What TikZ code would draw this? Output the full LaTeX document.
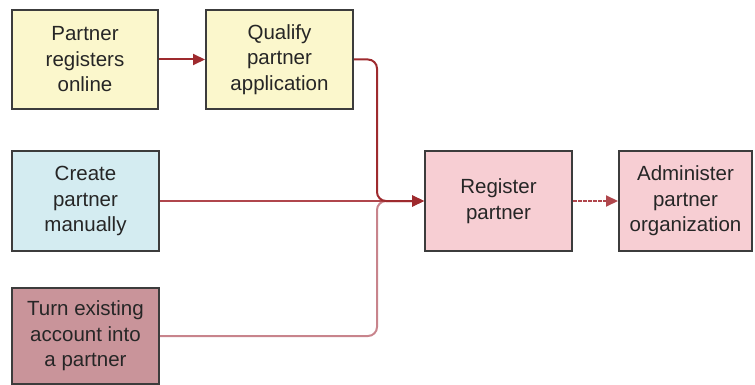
\documentclass[tikz,border=0pt]{standalone}
\usepackage{fontspec}
\setmainfont{Liberation Sans}
\usetikzlibrary{arrows.meta}
\definecolor{ylw}{HTML}{FBF7CC}
\definecolor{blu}{HTML}{D4ECF1}
\definecolor{pnk}{HTML}{F7CED3}
\definecolor{dpk}{HTML}{C9949A}
\definecolor{edge}{HTML}{3C3C3C}
\definecolor{lnred}{HTML}{9E2A2E}
\definecolor{lnpink}{HTML}{C8848C}
\definecolor{lnmid}{HTML}{B0464C}
\tikzset{
  box/.style={draw=edge, line width=2pt, rectangle, align=center, inner sep=0pt,
    font=\fontsize{20.5}{25.5}\selectfont, text=black!85},
  conn/.style={line width=2pt, rounded corners=9pt, -{Triangle[length=12pt,width=11pt]}},
}
\begin{document}
\begin{tikzpicture}[x=1pt,y=-1pt]
\useasboundingbox (0,0) rectangle (755,385);
\node[box, fill=ylw, minimum width=146pt, minimum height=99pt] (reg1) at (85,59.5) {Partner\\registers\\online};
\node[box, fill=ylw, minimum width=147pt, minimum height=99pt] (qual) at (279.5,59.5) {Qualify\\partner\\application};
\node[box, fill=blu, minimum width=147pt, minimum height=100pt] (create) at (85.5,201) {Create\\partner\\manually};
\node[box, fill=dpk, minimum width=147pt, minimum height=96pt] (turn) at (85.5,336) {Turn existing\\account into\\a partner};
\node[box, fill=pnk, minimum width=147pt, minimum height=100pt] (regp) at (498.5,201) {Register\\partner};
\node[box, fill=pnk, minimum width=133pt, minimum height=100pt] (admin) at (685.5,201) {Administer\\partner\\organization};
\coordinate (merge) at (377,201);
\draw[conn, draw=lnpink] (turn.east) -| (merge) -- (regp.west);
\draw[conn, draw=lnmid] (create.east) -- (regp.west);
\draw[conn, draw=lnred] (qual.east) -| (merge) -- (regp.west);
\draw[conn, draw=lnred] (reg1.east) -- (qual.west);
\draw[conn, draw=lnmid, dash pattern=on 4pt off 1pt] (regp.east) -- (admin.west);
\end{tikzpicture}
\end{document}
